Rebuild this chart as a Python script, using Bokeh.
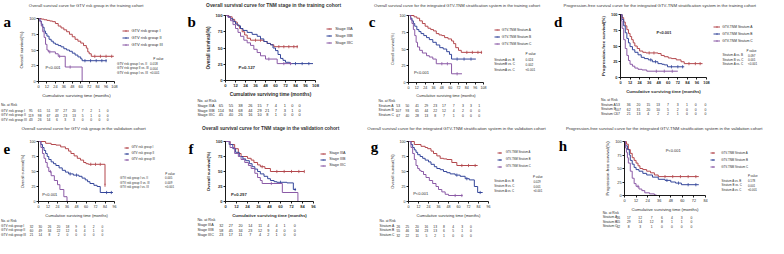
import numpy as np
from bokeh.plotting import figure
from bokeh.models import Range1d, Label, Legend, LegendItem, FixedTicker
from bokeh.layouts import row, column
from bokeh.embed import file_html
from bokeh.resources import INLINE

FONT = "Liberation Sans"
SERIF = "Liberation Serif"
TXT = "#2a2a2a"
COLORS = ["#b3474c", "#34469a", "#8b5aa6"]

# ---------------- data ----------------
# a: OS by GTV risk group, training
a_times = [[0, 4, 8, 12, 16, 20, 24, 28, 32, 36, 40, 44, 48, 52, 56, 60, 64, 68, 70, 72, 75, 107],
           [0, 2, 4, 6, 8, 10, 12, 15, 18, 21, 24, 28, 32, 36, 40, 44, 48, 52, 56, 60, 62, 97],
           [0, 2, 4, 6, 8, 10, 12, 14, 24, 28, 38, 62]]
a_surv = [[100, 99, 98, 97, 96, 95, 92, 88, 85, 82, 79, 75, 71, 67, 64, 61, 57, 53, 47, 44, 40, 40],
          [100, 96, 91, 86, 80, 76, 72, 67, 64, 61, 59, 57, 55, 52, 50, 48, 45, 42, 39, 36, 33, 33],
          [100, 95, 88, 79, 70, 59, 50, 47, 44, 40, 23, 0]]
a_cens = [[80, 88, 96, 104], [66, 74, 82, 90, 96], [16, 30, 45]]
a_risk = [[95, 61, 51, 37, 27, 20, 7, 2, 1, 0],
          [119, 98, 67, 43, 23, 13, 5, 1, 0, 0],
          [43, 26, 14, 6, 3, 3, 0, 0, 0, 0]]
a_groups = ["GTV risk group I", "GTV risk group II", "GTV risk group III"]
a_pairs = ["GTV risk group I vs. II", "GTV risk group II vs. III", "GTV risk group I vs. III"]
a_pvals = ["0.018", "0.004", "<0.001"]
a_pmain = "P<0.001"
a_title = "Overall survival  curve for GTV risk group in the training cohort"

# b: OS by TNM stage, training
b_times = [[0, 4, 8, 11, 14, 17, 20, 23, 26, 30, 46, 50, 54, 58, 87],
           [0, 3, 6, 9, 12, 15, 18, 21, 26, 32, 38, 42, 46, 50, 54, 57, 60, 63, 66, 69, 72, 77, 105],
           [0, 3, 6, 9, 12, 15, 18, 22, 26, 30, 34, 38, 42, 48, 62, 80]]
b_surv = [[100, 98, 94, 90, 85, 80, 75, 70, 65, 62, 60, 57, 55, 52, 52],
          [100, 98, 95, 91, 87, 84, 80, 77, 74, 71, 68, 64, 60, 57, 55, 50, 46, 40, 34, 31, 28, 26, 26],
          [100, 97, 92, 86, 80, 74, 68, 62, 58, 54, 48, 43, 38, 33, 26, 26]]
b_cens = [[36, 42, 64, 70, 76, 82, 86], [84, 92, 100], [52, 70, 78]]
b_risk = [[65, 55, 38, 26, 15, 7, 4, 1, 0, 0],
          [114, 94, 68, 44, 29, 21, 7, 3, 1, 0],
          [45, 40, 26, 16, 10, 8, 1, 0, 0, 0]]
b_groups = ["Stage IIIA", "Stage IIIB", "Stage IIIC"]
b_pmain = "P=0.127"
b_title = "Overall survival  curve for TNM stage in the training cohort"

# c: OS by GTV-TNM stratum, training
c_times = [[0, 8, 12, 16, 20, 24, 28, 32, 36, 40, 44, 48, 52, 57, 62, 65, 68, 72, 76, 106],
           [0, 3, 5, 7, 9, 12, 15, 18, 22, 26, 30, 35, 40, 45, 50, 55, 59, 62, 97],
           [0, 3, 5, 7, 9, 11, 13, 16, 20, 26, 30, 35, 40, 62, 77]]
c_surv = [[100, 98, 96, 92, 88, 84, 81, 79, 77, 73, 71, 70, 67, 65, 62, 58, 52, 48, 45, 45],
          [100, 96, 92, 88, 84, 79, 76, 73, 70, 67, 64, 60, 56, 52, 50, 46, 42, 35, 35],
          [100, 94, 88, 79, 70, 60, 53, 48, 44, 40, 38, 35, 28, 13, 13]]
c_cens = [[84, 92, 100, 105], [70, 80, 90], [48, 56, 70]]
c_risk = [[53, 50, 41, 29, 23, 17, 7, 3, 3, 1],
          [107, 93, 65, 44, 22, 12, 4, 2, 0, 0],
          [67, 40, 28, 13, 8, 7, 1, 0, 0, 0]]
c_groups = ["GTV-TNM Stratum A", "GTV-TNM Stratum B", "GTV-TNM Stratum C"]
c_rows = ["Stratum A", "Stratum B", "Stratum C"]
c_pairs = ["StratumA vs. B", "StratumB vs. C", "StratumA vs. C"]
c_pvals = ["0.024", "0.002", "<0.001"]
c_pmain = "P<0.001"
c_title = "Overall survival curve for the integrated GTV-TNM stratification system in the training cohort"

# d: PFS by GTV-TNM stratum, training
d_times = [[0, 2, 4, 6, 8, 10, 12, 14, 16, 18, 21, 24, 28, 32, 47, 51, 55, 60, 64, 70, 76, 80, 103],
           [0, 2, 4, 6, 8, 10, 12, 15, 18, 22, 26, 30, 35, 40, 47, 52, 55, 59, 80],
           [0, 1, 2, 4, 6, 8, 10, 12, 15, 18, 22, 27, 33, 72]]
d_surv = [[100, 95, 88, 82, 76, 70, 65, 60, 55, 50, 46, 42, 40, 39, 38, 35, 33, 31, 30, 28, 25, 22, 22],
          [100, 92, 82, 71, 62, 55, 49, 44, 40, 36, 32, 30, 28, 25, 22, 21, 20, 17, 17],
          [100, 90, 78, 60, 46, 35, 27, 21, 18, 15, 13, 12, 10, 10]]
d_cens = [[36, 42, 86, 94, 100], [38, 44, 64, 72, 78], [45, 55, 65]]
d_risk = [[53, 36, 20, 15, 13, 7, 3, 1, 0, 0],
          [107, 62, 31, 20, 10, 5, 2, 0, 0, 0],
          [67, 21, 13, 4, 2, 2, 1, 0, 0, 0]]
d_pairs = ["Stratum A vs. B", "Stratum B vs. C", "Stratum A vs. C"]
d_pvals = ["0.097", "0.001", "<0.001"]
d_pmain = "P<0.001"
d_title = "Progression-free survival curve for the integrated GTV-TNM stratification system in the training cohort"

# e: OS by GTV risk group, validation
e_times = [[0, 9, 16, 22, 28, 34, 38, 41, 45, 49, 53, 57, 60, 63, 84],
           [0, 3, 5, 7, 9, 11, 13, 16, 19, 22, 26, 30, 34, 38, 44, 51, 55, 59, 62, 65, 70, 74, 78, 94],
           [0, 3, 5, 7, 9, 11, 13, 16, 20, 24, 27, 32, 36]]
e_surv = [[100, 97, 95, 94, 91, 88, 84, 80, 76, 72, 69, 65, 63, 62, 27],
          [100, 95, 90, 85, 80, 75, 70, 66, 63, 60, 56, 52, 49, 46, 44, 42, 39, 36, 33, 30, 27, 25, 15, 15],
          [100, 90, 80, 72, 65, 57, 50, 43, 35, 28, 20, 8, 0]]
e_cens = [[66, 72, 78, 84], [40, 48, 86, 92], [15]]
e_risk = [[32, 30, 26, 20, 18, 9, 6, 2, 0],
          [60, 49, 34, 22, 12, 6, 4, 1, 0],
          [21, 14, 8, 2, 0, 0, 0, 0, 0]]
e_pvals = ["0.005", "0.009", "<0.001"]
e_pmain = "P<0.001"
e_title = "Overall survival  curve for  GTV risk group in the validation cohort"

# f: OS by TNM stage, validation
f_times = [[0, 5, 10, 14, 17, 24, 28, 31, 35, 38, 43, 49, 86],
           [0, 4, 8, 11, 15, 19, 22, 26, 29, 32, 35, 38, 42, 46, 49, 53, 56, 67, 74, 77],
           [0, 5, 10, 14, 17, 21, 25, 28, 32, 35, 38, 40, 62, 79]]
f_surv = [[100, 95, 88, 80, 75, 72, 69, 65, 61, 58, 55, 50, 50],
          [100, 95, 88, 82, 75, 71, 68, 63, 58, 54, 50, 46, 42, 38, 35, 33, 32, 31, 20, 20],
          [100, 90, 80, 75, 70, 65, 60, 55, 47, 40, 35, 30, 15, 0]]
f_cens = [[40, 56, 64, 72, 80, 86], [60, 76], [50]]
f_risk = [[32, 27, 20, 14, 11, 4, 4, 1, 0],
          [58, 45, 34, 23, 12, 9, 4, 0, 0],
          [23, 17, 11, 7, 4, 2, 1, 0, 0]]
f_pmain = "P=0.297"
f_title = "Overall survival  curve for TNM stage in the validation cohort"

# g: OS by GTV-TNM stratum, validation
g_times = [[0, 7, 15, 20, 23, 27, 30, 34, 38, 42, 46, 52, 58, 83],
           [0, 3, 5, 7, 9, 11, 14, 17, 20, 24, 27, 31, 34, 38, 42, 46, 50, 56, 62, 68, 73, 79, 83, 89],
           [0, 3, 5, 7, 9, 11, 13, 15, 18, 21, 25, 29, 33, 36, 40, 44, 48, 65]]
g_surv = [[100, 95, 92, 90, 88, 84, 80, 76, 72, 71, 70, 65, 60, 60],
          [100, 95, 90, 86, 82, 78, 75, 72, 69, 66, 62, 58, 55, 53, 50, 48, 46, 44, 42, 38, 36, 25, 15, 15],
          [100, 90, 80, 70, 60, 55, 52, 50, 45, 40, 35, 30, 25, 20, 16, 12, 10, 10]]
g_cens = [[64, 72, 80], [58, 70, 86], [56, 64]]
g_risk = [[26, 25, 20, 16, 13, 8, 4, 3, 0],
          [55, 46, 34, 23, 13, 6, 5, 1, 0],
          [32, 22, 11, 5, 2, 1, 0, 0, 0]]
g_pvals = ["0.029", "0.001", "<0.001"]
g_pmain = "P<0.001"
g_title = "Overall survival curve for the integrated GTV-TNM stratification system in the validation cohort"

# h: PFS by GTV-TNM stratum, validation
h_times = [[0, 2, 4, 6, 8, 10, 12, 14, 16, 19, 23, 27, 31, 35, 77],
           [0, 1, 3, 5, 6, 8, 10, 12, 15, 19, 23, 29, 35, 42, 48, 53, 59, 77],
           [0, 1, 2, 3, 4, 6, 8, 10, 12, 15, 18, 21, 26, 31, 33]]
h_surv = [[100, 95, 85, 78, 70, 65, 60, 55, 50, 48, 45, 42, 38, 35, 35],
          [100, 92, 85, 75, 65, 58, 52, 48, 45, 41, 38, 34, 30, 28, 25, 23, 20, 20],
          [100, 88, 80, 70, 60, 45, 32, 22, 17, 12, 9, 5, 3, 1, 0]]
h_cens = [[42, 50, 58, 66, 74], [44, 56, 66, 74], [14]]
h_risk = [[26, 17, 12, 7, 6, 4, 3, 0],
          [55, 29, 14, 12, 8, 1, 1, 0],
          [32, 8, 3, 1, 0, 0, 0, 0]]
h_pvals = ["0.178", "0.001", "<0.001"]
h_pmain = "P<0.001"
h_title = "Progression-free survival curve for the integrated GTV-TNM stratification system in the validation cohort"

OS_LABEL = "Overall survival(%)"
PFS_LABEL = "Progression-free survival(%)"
X_LABEL = "Cumulative surviving time (months)"
RISK_HEADER = "No. at Risk"
P_HEADER = "P value"

# ---------------- layout (reference pixel geometry) ----------------
SX = 768 / 784
SY = 238 / 254

SPECS = [
    dict(letter="a", box=(0, 190, 0, 130), frame=(39, 116, 19, 86), xmax=108,
         times=a_times, surv=a_surv, cens=a_cens, risk=a_risk, groups=a_groups, rows=a_groups,
         pairs=a_pairs, pvals=a_pvals, pmain=a_pmain, title=a_title, ylabel=OS_LABEL,
         title_xy=(88, 5), title_size=4.2, title_bold=False, letter_xy=(3, 23), bold=False,
         tick_size=3.8, axlab_size=4.4,
         leg=dict(x0=125, x1=132, tx=134, ys=[33, 40.5, 48], size=4.0),
         ptab=dict(hx=156, hy=62, lx=119, vx=152.5, ys=[67, 72, 77], size=3.1),
         pm=(46, 71, 4.0),
         rt=dict(lx=0.5, hy=112, ys=[117.5, 122.5, 127.5], size=3.3,
                 cols=[31, 40, 49, 57.5, 66, 75, 84, 92.5, 101, 109.5])),
    dict(letter="b", box=(190, 364, 0, 130), frame=(230, 322, 16, 85), xmax=108,
         times=b_times, surv=b_surv, cens=b_cens, risk=b_risk, groups=b_groups, rows=b_groups,
         pairs=None, pvals=None, pmain=b_pmain, title=b_title, ylabel=OS_LABEL,
         title_xy=(279.5, 5), title_size=4.9, title_bold=True, letter_xy=(191, 23), bold=True,
         tick_size=4.2, axlab_size=4.8,
         leg=dict(x0=333, x1=339, tx=342, ys=[30.7, 38.3, 46], size=4.0),
         ptab=None,
         pm=(243, 71, 4.4),
         rt=dict(lx=201, hy=107, ys=[112, 117, 122], size=3.9,
                 cols=[225, 235.3, 245, 255, 264.3, 272.3, 281, 290.3, 298, 305.3])),
    dict(letter="c", box=(364, 561, 0, 130), frame=(417, 493, 16, 87), xmax=108,
         times=c_times, surv=c_surv, cens=c_cens, risk=c_risk, groups=c_groups, rows=c_rows,
         pairs=c_pairs, pvals=c_pvals, pmain=c_pmain, title=c_title, ylabel=OS_LABEL,
         title_xy=(466, 5), title_size=4.1, title_bold=False, letter_xy=(376, 23), bold=False,
         tick_size=3.6, axlab_size=3.8,
         leg=dict(x0=504, x1=510, tx=512, ys=[31.7, 39.3, 46.7], size=3.2),
         ptab=dict(hx=536, hy=57, lx=504, vx=536, ys=[63, 68, 74], size=3.1),
         pm=(422, 76.7, 4.0),
         rt=dict(lx=386, hy=107, ys=[112.3, 117.3, 122.3], size=3.4,
                 cols=[406, 415.3, 425.3, 434.7, 443.7, 452.7, 462.7, 472, 480.3, 488.7])),
    dict(letter="d", box=(561, 784, 0, 130), frame=(633, 721, 15, 82), xmax=108,
         times=d_times, surv=d_surv, cens=d_cens, risk=d_risk, groups=c_groups, rows=c_rows,
         pairs=d_pairs, pvals=d_pvals, pmain=d_pmain, title=d_title, ylabel=PFS_LABEL,
         title_xy=(673, 5), title_size=4.3, title_bold=False, letter_xy=(565, 23), bold=True,
         tick_size=3.9, axlab_size=4.4,
         leg=dict(x0=728, x1=735, tx=737, ys=[28.3, 36.5, 44], size=3.3),
         ptab=dict(hx=761.5, hy=54, lx=737, vx=763, ys=[58.3, 63.3, 67.7], size=3.0),
         pm=(669.7, 34.3, 4.0),
         rt=dict(lx=613, hy=106, ys=[111, 116, 121], size=3.4,
                 cols=[630.3, 641.3, 651.3, 661.3, 671.3, 681.3, 691.3, 700.7, 709.7, 719.7])),
    dict(letter="e", box=(0, 190, 130, 254), frame=(39, 116, 150, 215), xmax=96,
         times=e_times, surv=e_surv, cens=e_cens, risk=e_risk, groups=a_groups, rows=a_groups,
         pairs=a_pairs, pvals=e_pvals, pmain=e_pmain, title=e_title, ylabel=OS_LABEL,
         title_xy=(86, 137), title_size=4.4, title_bold=False, letter_xy=(3, 159), bold=False,
         tick_size=3.6, axlab_size=4.0,
         leg=dict(x0=127, x1=132, tx=134, ys=[157, 163.7, 170.3], size=3.0),
         ptab=dict(hx=168.3, hy=185.3, lx=122, vx=168, ys=[189.3, 194.3, 199.3], size=2.9),
         pm=(42.7, 207, 4.0),
         rt=dict(lx=0.5, hy=235.7, ys=[240.7, 245.3, 250], size=3.2,
                 cols=[31.7, 40.7, 50, 59.3, 68.3, 77.3, 86, 95, 104])),
    dict(letter="f", box=(190, 364, 130, 254), frame=(230, 320, 150, 215), xmax=96,
         times=f_times, surv=f_surv, cens=f_cens, risk=f_risk, groups=b_groups, rows=b_groups,
         pairs=None, pvals=None, pmain=f_pmain, title=f_title, ylabel=OS_LABEL,
         title_xy=(276.5, 137), title_size=4.8, title_bold=True, letter_xy=(192, 159), bold=True,
         tick_size=4.0, axlab_size=4.4,
         leg=dict(x0=327, x1=333, tx=336, ys=[163.7, 170.5, 177.5], size=3.7),
         ptab=None,
         pm=(235.3, 207, 4.2),
         rt=dict(lx=201, hy=234.3, ys=[240, 245, 250], size=3.7,
                 cols=[225.3, 235, 245, 255, 265, 273.3, 281.7, 290, 300.3])),
    dict(letter="g", box=(364, 567, 130, 254), frame=(416, 498, 150, 215), xmax=96,
         times=g_times, surv=g_surv, cens=g_cens, risk=g_risk, groups=c_groups, rows=c_rows,
         pairs=d_pairs, pvals=g_pvals, pmain=g_pmain, title=g_title, ylabel=OS_LABEL,
         title_xy=(465.5, 137), title_size=4.3, title_bold=False, letter_xy=(378, 156), bold=False,
         tick_size=3.6, axlab_size=4.1,
         leg=dict(x0=507, x1=512, tx=516, ys=[162.5, 170, 177.5], size=2.7),
         ptab=dict(hx=543.7, hy=188, lx=504, vx=544, ys=[193, 198, 203], size=2.9),
         pm=(421.3, 206.3, 4.0),
         rt=dict(lx=387, hy=235.7, ys=[240.7, 245.3, 250.3], size=3.3,
                 cols=[406, 415.3, 425.3, 434.7, 443.7, 452.7, 462, 471.3, 480.3])),
    dict(letter="h", box=(567, 784, 130, 254), frame=(637, 720, 151, 208), xmax=84,
         times=h_times, surv=h_surv, cens=h_cens, risk=h_risk, groups=c_groups, rows=c_rows,
         pairs=d_pairs, pvals=h_pvals, pmain=h_pmain, title=h_title, ylabel=PFS_LABEL,
         title_xy=(677.5, 137), title_size=4.3, title_bold=False, letter_xy=(570, 155), bold=False,
         tick_size=3.8, axlab_size=4.3,
         leg=dict(x0=725, x1=730, tx=736, ys=[163, 170.5, 178], size=2.9),
         ptab=dict(hx=763, hy=187.7, lx=736, vx=763, ys=[192.3, 197, 202], size=2.9),
         pm=(679, 160.3, 4.0),
         rt=dict(lx=614.7, hy=226.3, ys=[231.3, 236, 240.7], size=3.3,
                 cols=[630.7, 641.3, 653, 664.7, 675.3, 685.3, 695.3, 705.3])),
]


def build(spec):
    pl, pr, rtop, rbot = spec["box"]
    fl, fr, ft, fb = spec["frame"]
    X0, X1 = round(pl * SX), round(pr * SX)
    Y0, Y1 = round(rtop * SY), round(rbot * SY)
    W, H = X1 - X0, Y1 - Y0
    fx0, fx1 = round(fl * SX), round(fr * SX)
    fy1, fy0 = round(ft * SY), round(fb * SY)   # plot-area top, bottom (absolute canvas px)
    fw, fh = fx1 - fx0, fy0 - fy1
    xmax = spec["xmax"]

    # the frame covers the whole panel; ranges chosen so that the data box lands on the plot area
    x_range = Range1d((X0 - fx0) / fw * xmax, (X1 - fx0) / fw * xmax)
    y_range = Range1d((fy0 - Y1) / fh * 100, (fy0 - Y0) / fh * 100)
    p = figure(width=W, height=H, output_backend="svg", toolbar_location=None, title=None,
               x_range=x_range, y_range=y_range,
               min_border_left=0, min_border_right=0, min_border_top=0, min_border_bottom=0)
    p.outline_line_color = None
    p.grid.visible = False
    p.background_fill_color = "white"
    p.border_fill_color = "white"

    fs = "bold" if spec["bold"] else "normal"
    for ax in (p.xaxis[0], p.yaxis[0]):
        ax.fixed_location = 0
        ax.axis_line_color = "black"
        ax.axis_line_width = 0.9
        ax.major_tick_line_color = "black"
        ax.major_tick_line_width = 0.9
        ax.major_tick_out = 2
        ax.major_tick_in = 0
        ax.minor_tick_line_color = None
        ax.major_label_standoff = 1
        ax.major_label_text_font = FONT
        ax.major_label_text_font_size = f"{spec['tick_size']}px"
        ax.major_label_text_font_style = fs
        ax.major_label_text_color = TXT
        ax.axis_label_text_font = FONT
        ax.axis_label_text_font_size = f"{spec['axlab_size']}px"
        ax.axis_label_text_font_style = fs
        ax.axis_label_text_color = TXT
        ax.axis_label_standoff = 2
    p.xaxis[0].bounds = (0, xmax)
    p.yaxis[0].bounds = (0, 100)
    p.xaxis[0].ticker = FixedTicker(ticks=list(range(0, xmax + 1, 12)))
    p.yaxis[0].ticker = FixedTicker(ticks=[0, 25, 50, 75, 100])
    p.xaxis[0].axis_label = X_LABEL
    p.yaxis[0].axis_label = spec["ylabel"]

    def xd(X):
        return (X * SX - fx0) / fw * xmax

    def yd(Y):
        return (fy0 - Y * SY) / fh * 100

    def lab(text, X, Y, size, align="left", style="normal", font=FONT, color=TXT, baseline="middle"):
        p.add_layout(Label(x=xd(X), y=yd(Y), text=text, text_font=font,
                           text_font_size=f"{size}px", text_align=align,
                           text_baseline=baseline, text_font_style=style, text_color=color))

    # survival curves with censor ticks
    items = []
    for k in range(3):
        t = np.array(spec["times"][k], dtype=float)
        s = np.array(spec["surv"][k], dtype=float)
        col = COLORS[k]
        r = p.step(t, s, mode="after", line_color=col, line_width=1.0)
        c = np.array(spec["cens"][k], dtype=float)
        idx = np.searchsorted(t, c, side="right") - 1
        m = p.scatter(c, s[idx], marker="dash", angle=np.pi / 2, size=3.2,
                      line_color=col, line_width=0.8)
        items.append(LegendItem(label=spec["groups"][k], renderers=[r, m]))

    # legend (location = bottom-left corner, px from the frame's bottom-left)
    lg = spec["leg"]
    ih = 5
    dys = np.diff(lg["ys"]).mean() * SY
    sp = max(0, int(round(dys - ih)))
    top_canvas = lg["ys"][0] * SY - ih / 2
    bottom_canvas = top_canvas + 3 * ih + 2 * sp
    legend = Legend(items=items, location=(lg["x0"] * SX - X0, Y1 - bottom_canvas),
                    glyph_width=max(3, int(round((lg["x1"] - lg["x0"]) * SX))),
                    glyph_height=ih, label_height=ih, spacing=sp,
                    label_standoff=max(1, int(round((lg["tx"] - lg["x1"]) * SX))),
                    padding=0, margin=0, border_line_color=None,
                    background_fill_alpha=0, label_text_font=FONT,
                    label_text_font_size=f"{lg['size']}px", label_text_color=TXT,
                    label_width=10)
    p.add_layout(legend)

    # title and panel letter
    tx, ty = spec["title_xy"]
    lab(spec["title"], tx, ty, spec["title_size"], align="center",
        style="bold" if spec["title_bold"] else "normal", color="#333333")
    lx, ly = spec["letter_xy"]
    lab(spec["letter"], lx, ly, 15, style="bold", font=SERIF, color="black", baseline="alphabetic")

    # pairwise p-value table
    pt = spec["ptab"]
    if pt is not None:
        lab(P_HEADER, pt["hx"], pt["hy"], pt["size"])
        for k in range(3):
            lab(spec["pairs"][k], pt["lx"], pt["ys"][k], pt["size"])
            lab(spec["pvals"][k], pt["vx"], pt["ys"][k], pt["size"])

    # overall log-rank p
    px, py, psz = spec["pm"]
    lab(spec["pmain"], px, py, psz, style="bold" if spec["bold"] else "normal")

    # number-at-risk table
    rt = spec["rt"]
    lab(RISK_HEADER, rt["lx"], rt["hy"], rt["size"])
    for k in range(3):
        lab(spec["rows"][k], rt["lx"], rt["ys"][k], rt["size"])
        for j, v in enumerate(spec["risk"][k]):
            lab(str(v), rt["cols"][j], rt["ys"][k], rt["size"], align="center")
    return p


figs = [build(s) for s in SPECS]
layout = column(row(*figs[:4]), row(*figs[4:]))
open("out.html", "w").write(file_html(layout, INLINE))
